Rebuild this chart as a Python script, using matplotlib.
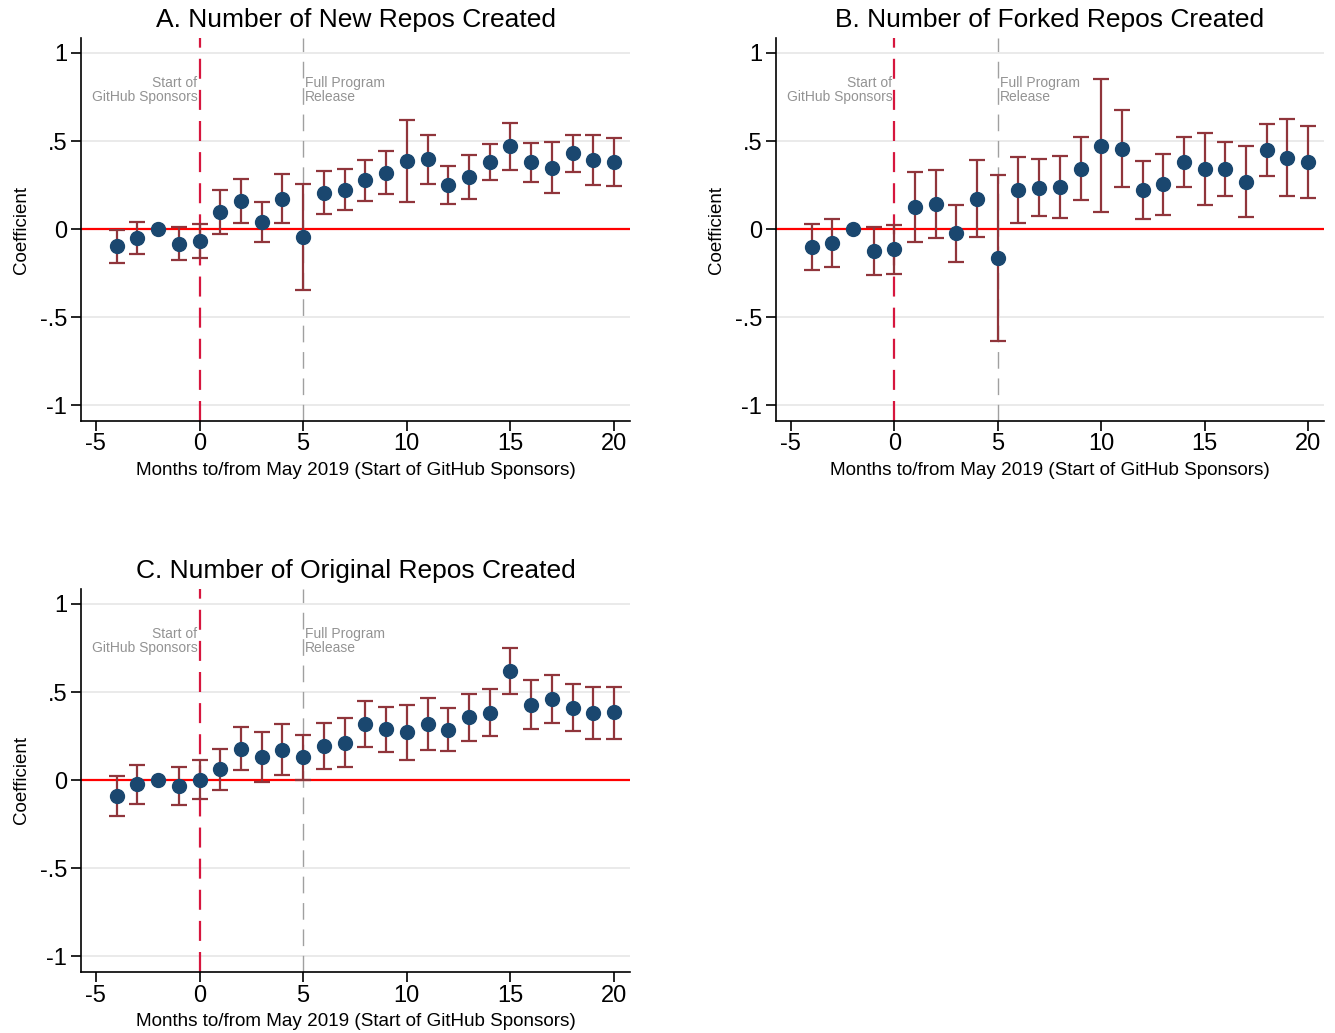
import matplotlib
matplotlib.use("Agg")
import matplotlib.pyplot as plt
import numpy as np

plt.rcParams['font.family'] = ['Liberation Sans', 'DejaVu Sans']
plt.rcParams['axes.unicode_minus'] = False

months = list(range(-4, 21))

# Panel A: New repos
coef_a = [-0.097, -0.053, 0.0, -0.083, -0.066, 0.097, 0.159, 0.040, 0.172, -0.047,
          0.206, 0.223, 0.277, 0.318, 0.386, 0.396, 0.250, 0.295, 0.379, 0.470,
          0.379, 0.348, 0.430, 0.394, 0.383]
hi_a = [-0.006, 0.038, 0.0, 0.011, 0.030, 0.223, 0.282, 0.153, 0.314, 0.258,
        0.328, 0.339, 0.394, 0.441, 0.619, 0.536, 0.360, 0.419, 0.481, 0.602,
        0.487, 0.492, 0.536, 0.536, 0.519]
lo_a = [-0.190, -0.142, 0.0, -0.174, -0.163, -0.030, 0.036, -0.072, 0.034, -0.348,
        0.083, 0.110, 0.159, 0.197, 0.155, 0.256, 0.140, 0.169, 0.278, 0.335,
        0.269, 0.205, 0.324, 0.250, 0.246]

# Panel B: Forked repos
coef_b = [-0.104, -0.078, 0.0, -0.123, -0.116, 0.125, 0.142, -0.025, 0.172, -0.167,
          0.222, 0.233, 0.240, 0.343, 0.473, 0.456, 0.223, 0.254, 0.381, 0.341,
          0.339, 0.269, 0.451, 0.403, 0.381]
hi_b = [0.028, 0.057, 0.0, 0.013, 0.023, 0.322, 0.333, 0.138, 0.392, 0.305,
        0.409, 0.396, 0.415, 0.523, 0.850, 0.674, 0.388, 0.426, 0.523, 0.545,
        0.492, 0.472, 0.597, 0.623, 0.585]
lo_b = [-0.235, -0.216, 0.0, -0.263, -0.258, -0.074, -0.051, -0.189, -0.045, -0.634,
        0.034, 0.072, 0.061, 0.163, 0.097, 0.239, 0.059, 0.078, 0.237, 0.136,
        0.186, 0.066, 0.303, 0.186, 0.178]

# Panel C: Original repos
coef_c = [-0.091, -0.025, 0.0, -0.032, 0.0, 0.061, 0.178, 0.131, 0.173, 0.129,
          0.194, 0.213, 0.317, 0.290, 0.271, 0.317, 0.287, 0.357, 0.383, 0.619,
          0.429, 0.461, 0.412, 0.383, 0.385]
hi_c = [0.023, 0.085, 0.0, 0.074, 0.112, 0.176, 0.304, 0.273, 0.317, 0.258,
        0.323, 0.355, 0.450, 0.417, 0.429, 0.467, 0.408, 0.486, 0.518, 0.748,
        0.567, 0.596, 0.543, 0.526, 0.531]
lo_c = [-0.205, -0.135, 0.0, -0.139, -0.110, -0.055, 0.055, -0.011, 0.030, 0.002,
        0.061, 0.072, 0.186, 0.161, 0.116, 0.171, 0.163, 0.224, 0.250, 0.490,
        0.292, 0.323, 0.279, 0.233, 0.233]

titles = ["A. Number of New Repos Created",
          "B. Number of Forked Repos Created",
          "C. Number of Original Repos Created"]
xticks = [-5, 0, 5, 10, 15, 20]
yticks = [-1, -0.5, 0, 0.5, 1]
yticklabels = ["-1", "-.5", "0", ".5", "1"]
xlabel = "Months to/from May 2019 (Start of GitHub Sponsors)"
ylabel = "Coefficient"
event_x = 0
release_x = 5

W, H = 1335, 1033
fig = plt.figure(figsize=(W / 100, H / 100), dpi=100)

def px_axes(left, top, right, bottom):
    return fig.add_axes([left / W, 1 - bottom / H, (right - left) / W, (bottom - top) / H])

positions = [(81, 38, 630, 421), (776, 38, 1324, 421), (81, 589, 630, 972)]
data = [(coef_a, lo_a, hi_a), (coef_b, lo_b, hi_b), (coef_c, lo_c, hi_c)]

navy = "#1a476f"
maroon = "#90353b"

for (pos, (coef, lo, hi), title) in zip(positions, data, titles):
    ax = px_axes(*pos)
    ax.set_xlim(-5.72, 20.77)
    ax.set_ylim(-1.09, 1.085)
    for yv in [-1, -0.5, 0.5, 1]:
        ax.axhline(yv, color="#e6e6e6", lw=1.2, zorder=0)
    ax.axhline(0, color="#ff0000", lw=1.6, zorder=1)
    ax.axvline(event_x, color="#d6163e", lw=1.6, ls=(0, (9, 5)), zorder=1)
    ax.axvline(release_x, color="#a0a0a0", lw=1.0, ls=(0, (12, 7)), zorder=1)
    m = np.array(months)
    c = np.array(coef)
    l = np.array(lo)
    h = np.array(hi)
    mask = (h - l) > 0
    ax.errorbar(m[mask], c[mask], yerr=[c[mask] - l[mask], h[mask] - c[mask]],
                fmt="none", ecolor=maroon, elinewidth=1.6, capsize=6, capthick=1.6, zorder=2)
    ax.plot(m, c, "o", color=navy, ms=10, mec=navy, zorder=3)
    ax.text(event_x - 0.1, 0.79, "Start of\nGitHub Sponsors", ha="right", va="center",
            color="#939393", fontsize=10, linespacing=1.05)
    ax.text(release_x + 0.1, 0.79, "Full Program\nRelease", ha="left", va="center",
            color="#939393", fontsize=10, linespacing=1.05)
    ax.set_xticks(xticks)
    ax.set_yticks(yticks)
    ax.set_yticklabels(yticklabels)
    ax.tick_params(axis="both", direction="out", length=7, width=1.2, labelsize=17, colors="black")
    ax.tick_params(axis="x", pad=2)
    ax.tick_params(axis="y", pad=3)
    for s in ["top", "right"]:
        ax.spines[s].set_visible(False)
    for s in ["left", "bottom"]:
        ax.spines[s].set_linewidth(1.2)
    ax.set_xlabel(xlabel, fontsize=13.6, labelpad=5)
    ax.set_ylabel(ylabel, fontsize=13.5, labelpad=7)
    ax.set_title(title, fontsize=19, pad=8)

fig.savefig("out.png", dpi=100, facecolor="white")
